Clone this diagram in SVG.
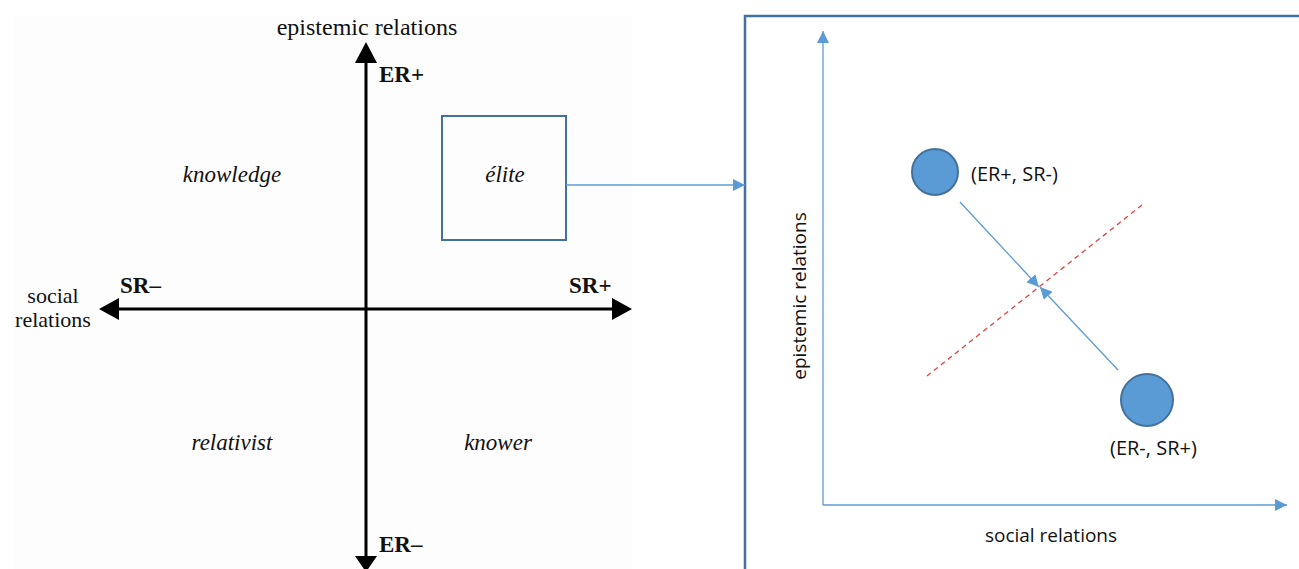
<svg xmlns="http://www.w3.org/2000/svg" width="1299" height="569" viewBox="0 0 1299 569">
  <style>
    .serif { font-family: "Liberation Serif", "Times New Roman", serif; fill: #111; }
    .quad { font-size: 23px; font-style: italic; text-anchor: middle; }
    .pole { font-size: 23px; font-weight: bold; }
    .axis-lbl { font-size: 24px; text-anchor: middle; }
    .side-lbl { font-size: 22px; text-anchor: middle; }
    .sans { font-family: "Open Sans", "Liberation Sans", Arial, sans-serif; fill: #111; font-size: 19px; }
    .pt-lbl { font-size: 20px; }
    .main-axis { stroke: #000; stroke-width: 3; fill: none; }
    .blue-line { stroke: #5b9bd5; stroke-width: 1.3; fill: none; }
    .node-dot { fill: #5b9bd5; stroke: #41719c; stroke-width: 2; }
  </style>
  <defs>
    <marker id="blueHead" viewBox="0 0 10 10" refX="10" refY="5" markerWidth="12" markerHeight="12" markerUnits="userSpaceOnUse" orient="auto">
      <path d="M0,0 L10,5 L0,10 z" fill="#5b9bd5"/>
    </marker>
  </defs>

  <rect width="1299" height="569" fill="#fff"/>
  <!-- faint paper tone behind the left quadrant chart -->
  <rect x="13" y="15" width="619" height="554" fill="#fdfdfd"/>

  <!-- left: quadrant chart -->
  <g id="quadrant-axes">
    <line class="main-axis" x1="366" y1="569" x2="366" y2="62"/>
    <path d="M366,42 L355,63 L377,63 z" fill="#000"/>
    <path d="M366,572 L355,556 L377,556 z" fill="#000"/>
    <line class="main-axis" x1="118" y1="309" x2="613" y2="309"/>
    <path d="M99,309 L119,298 L119,320 z" fill="#000"/>
    <path d="M632,309 L612,298 L612,320 z" fill="#000"/>
  </g>
  <g id="axis-labels">
    <text class="serif axis-lbl" x="367" y="35">epistemic relations</text>
    <text class="serif side-lbl" x="53" y="303">social</text>
    <text class="serif side-lbl" x="53" y="327">relations</text>
    <text class="serif pole" x="379" y="82">ER+</text>
    <text class="serif pole" x="379" y="552">ER–</text>
    <text class="serif pole" x="120" y="293">SR–</text>
    <text class="serif pole" x="569" y="293">SR+</text>
  </g>
  <g id="quadrant-knowledge"><text class="serif quad" x="232" y="182">knowledge</text></g>
  <g id="quadrant-relativist"><text class="serif quad" x="232" y="450">relativist</text></g>
  <g id="quadrant-knower"><text class="serif quad" x="498" y="450">knower</text></g>
  <g id="quadrant-elite">
    <rect x="442" y="116" width="124" height="124" fill="none" stroke="#41719c" stroke-width="2"/>
    <text class="serif quad" x="505" y="182">élite</text>
  </g>

  <!-- right: zoomed detail panel -->
  <g id="detail-panel">
    <path d="M745,569 L745,16 L1299,16" fill="none" stroke="#41719c" stroke-width="2.5"/>
  </g>

  <g id="connectors">
    <line class="blue-line" x1="566" y1="185" x2="745" y2="185" marker-end="url(#blueHead)"/>
    <line class="blue-line" x1="823" y1="505" x2="823" y2="31" marker-end="url(#blueHead)"/>
    <line class="blue-line" x1="823" y1="505" x2="1287" y2="505" marker-end="url(#blueHead)"/>
    <line class="blue-line" x1="960" y1="202" x2="1039" y2="287" marker-end="url(#blueHead)"/>
    <line class="blue-line" x1="1118" y1="370" x2="1040" y2="287" marker-end="url(#blueHead)"/>
    <line x1="1142" y1="205" x2="927" y2="376" stroke="#e0433f" stroke-width="1.3" stroke-dasharray="5,4"/>
  </g>

  <g id="detail-axis-labels">
    <text class="sans" x="1051" y="542" text-anchor="middle">social relations</text>
    <text class="sans" transform="translate(806,296) rotate(-90)" text-anchor="middle">epistemic relations</text>
  </g>
  <g id="point-er-plus">
    <circle class="node-dot" cx="935" cy="172" r="23"/>
    <text class="sans pt-lbl" x="971" y="181">(ER+, SR-)</text>
  </g>
  <g id="point-er-minus">
    <circle class="node-dot" cx="1147" cy="400" r="26"/>
    <text class="sans pt-lbl" x="1110" y="455">(ER-, SR+)</text>
  </g>
</svg>
